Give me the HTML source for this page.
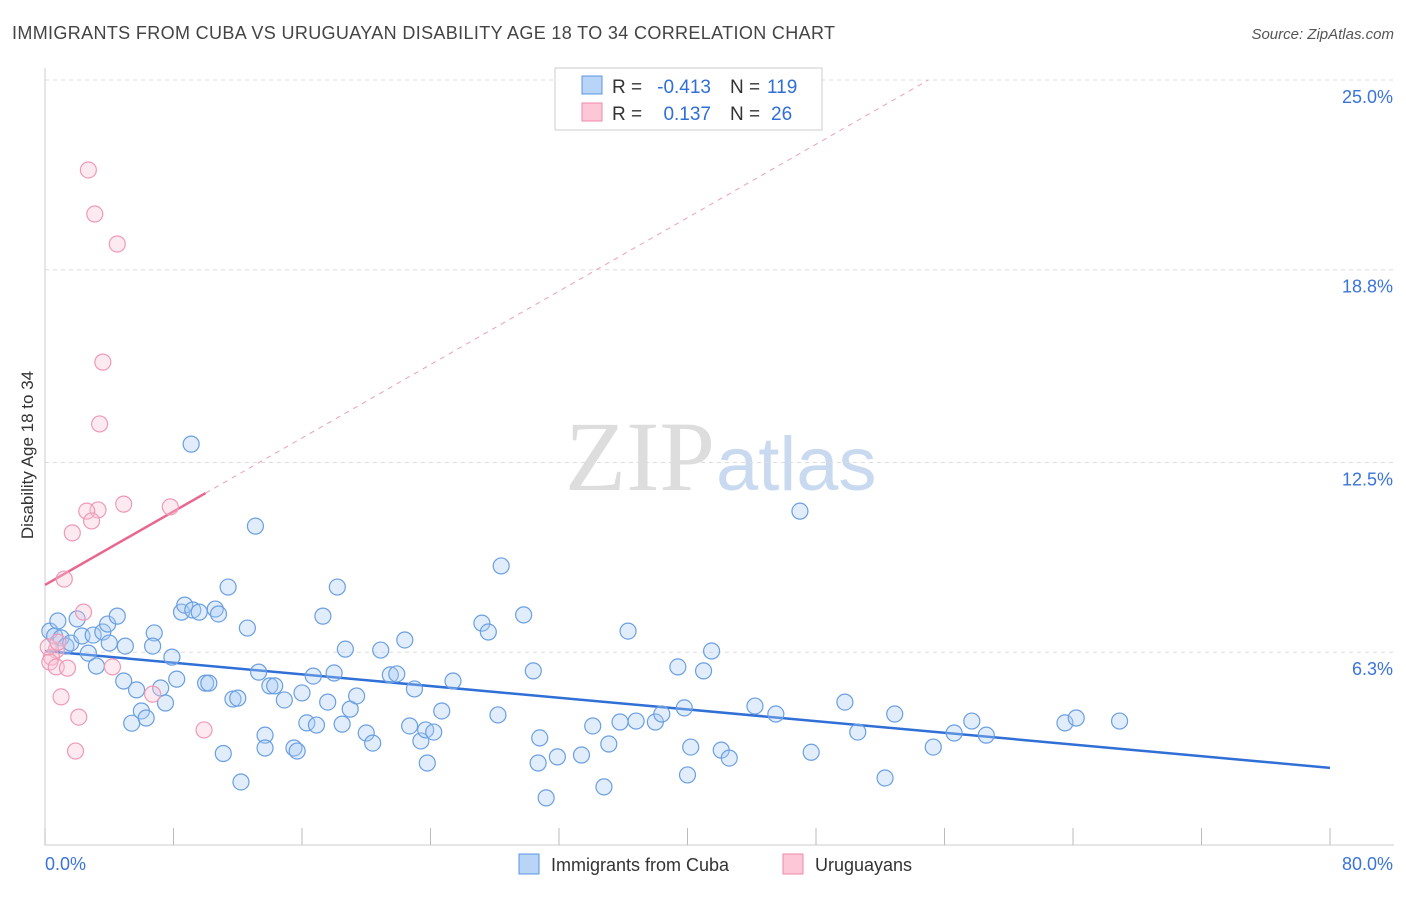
<!DOCTYPE html>
<html><head><meta charset="utf-8"><style>
body{margin:0;background:#fff;font-family:"Liberation Sans",sans-serif;}
</style></head><body>
<svg id="chart" width="1406" height="892" xmlns="http://www.w3.org/2000/svg" font-family="Liberation Sans, sans-serif">
<text x="12" y="39" font-size="18" fill="#444" textLength="823">IMMIGRANTS FROM CUBA VS URUGUAYAN DISABILITY AGE 18 TO 34 CORRELATION CHART</text>
<text x="1394" y="39" font-size="15" fill="#555" font-style="italic" text-anchor="end">Source: ZipAtlas.com</text>
<text x="715" y="490" font-size="100" fill="#ddd" text-anchor="end" font-family="Liberation Serif, serif">ZIP</text>
<text x="716" y="490" font-size="76" fill="#c9daf0">atlas</text>
<g id="grid"></g><g id="axes"></g><g id="trend"></g><g id="pts"></g>
<text transform="translate(33,455) rotate(-90)" font-size="17" fill="#333" text-anchor="middle">Disability Age 18 to 34</text>
<g>
<rect x="555" y="68" width="267" height="62" fill="#fff" stroke="#ccc"/>
<rect x="582" y="76" width="20" height="18" fill="#b8d4f6" stroke="#5b95e0"/>
<rect x="582" y="103" width="20" height="18" fill="#fcc8d7" stroke="#ee88a8"/>
<text x="612" y="93" font-size="19" fill="#333">R =</text>
<text x="711" y="93" font-size="19" fill="#2f6fd6" text-anchor="end">-0.413</text>
<text x="730" y="93" font-size="19" fill="#333">N =</text>
<text x="767" y="93" font-size="19" fill="#2f6fd6">119</text>
<text x="612" y="120" font-size="19" fill="#333">R =</text>
<text x="711" y="120" font-size="19" fill="#2f6fd6" text-anchor="end">0.137</text>
<text x="730" y="120" font-size="19" fill="#333">N =</text>
<text x="771" y="120" font-size="19" fill="#2f6fd6">26</text>
</g>
<g>
<rect x="519" y="854" width="20" height="20" fill="#b8d4f6" stroke="#5b95e0"/>
<text x="551" y="871" font-size="18" fill="#333">Immigrants from Cuba</text>
<rect x="783" y="854" width="20" height="20" fill="#fcc8d7" stroke="#ee88a8"/>
<text x="815" y="871" font-size="18" fill="#333">Uruguayans</text>
</g>
</svg>
<script>
const blueX=[0.3,0.6,0.8,1.0,1.3,1.6,2.0,2.3,2.7,3.0,3.2,3.6,3.9,4.0,4.5,4.9,5.0,5.4,5.7,6.0,6.3,6.8,6.7,7.2,7.5,7.9,8.2,8.5,8.7,9.1,9.2,9.6,10.0,10.2,10.6,10.8,11.1,11.4,11.7,12.0,12.2,12.6,13.1,13.3,13.7,13.7,14.0,14.3,14.9,15.5,15.7,16.0,16.3,16.7,16.9,17.3,17.6,18.0,18.2,18.5,18.7,19.0,19.4,20.0,20.4,20.9,21.5,21.9,22.4,22.7,23.0,23.4,23.7,23.8,24.2,24.7,25.4,27.2,27.6,28.2,28.4,29.8,30.4,30.8,30.7,31.2,31.9,33.4,34.1,34.8,35.1,35.8,36.3,36.8,38.0,38.4,39.4,39.8,40.0,41.0,40.2,41.5,42.1,42.6,44.2,45.5,47.0,47.7,49.8,50.6,52.3,52.9,55.3,56.6,57.7,58.6,63.5,64.2,66.9];
const blueY=[6.99,6.83,7.32,6.77,6.50,6.60,7.39,6.83,6.27,6.86,5.85,6.96,7.22,6.60,7.48,5.36,6.50,3.98,5.07,4.38,4.15,6.93,6.50,5.13,4.64,6.14,5.42,7.61,7.84,13.10,7.68,7.61,5.29,5.29,7.71,7.55,2.99,8.43,4.77,4.80,2.06,7.09,10.42,5.65,3.59,3.17,5.20,5.20,4.74,3.17,3.07,4.97,3.99,5.52,3.92,7.48,4.67,5.62,8.43,3.95,6.40,4.44,4.87,3.66,3.33,6.37,5.56,5.59,6.70,3.89,5.10,3.40,3.76,2.68,3.69,4.38,5.36,7.25,6.96,4.25,9.12,7.52,5.69,3.50,2.68,1.54,2.88,2.94,3.89,1.90,3.30,4.02,6.99,4.05,4.02,4.28,5.82,4.48,2.29,5.69,3.20,6.34,3.10,2.84,4.54,4.28,10.91,3.03,4.67,3.69,2.19,4.28,3.20,3.66,4.05,3.59,3.99,4.15,4.05,5.03];
const pinkX=[2.7,3.1,4.5,3.6,3.4,4.9,3.3,2.6,2.9,1.7,7.8,1.2,2.4,0.7,0.4,0.3,0.7,1.4,4.2,6.7,1.0,2.1,9.9,1.9,0.2,0.8];
const pinkY=[22.06,20.62,19.64,15.78,13.76,11.14,10.95,10.91,10.59,10.20,11.05,8.69,7.61,6.37,6.14,5.98,5.82,5.78,5.82,4.93,4.84,4.18,3.76,3.07,6.47,6.63];
const yTicks=[25.0,18.8,12.5,6.3];
const blueTrend=[6.34,2.52];
const pinkTrend=[8.50,0.30];
const X=v=>45+v/80*1285, Y=v=>845-v*30.6;
const NS="http://www.w3.org/2000/svg";
function mk(p,t,a){const e=document.createElementNS(NS,t);for(const k in a)e.setAttribute(k,a[k]);document.getElementById(p).appendChild(e);return e;}
yTicks.forEach(t=>{
 const l=mk('grid','line',{x1:45,x2:1394,y1:Y(t),y2:Y(t),stroke:'#ddd','stroke-dasharray':'4,4'});
 
 
 const tx=mk('grid','text',{x:1393,y:Y(t)+23,'font-size':18,fill:'#3a74d8','text-anchor':'end'});tx.textContent=t.toFixed(1)+'%';
 
 
});
let ax=mk('axes','line',{x1:45,x2:45,y1:68,y2:845,stroke:'#ccc'});


ax=mk('axes','line',{x1:45,x2:1394,y1:845,y2:845,stroke:'#ccc'});


for(let i=0;i<=10;i++){const t=mk('axes','line',{x1:X(i*8),x2:X(i*8),y1:828,y2:845,stroke:'#bbb'});
 
 }
let xl=mk('axes','text',{x:45,y:870,'font-size':18,fill:'#3a74d8'});xl.textContent='0.0%';


xl=mk('axes','text',{x:1393,y:870,'font-size':18,fill:'#3a74d8','text-anchor':'end'});xl.textContent='80.0%';


blueX.forEach((x,i)=>{const c=mk('pts','circle',{cx:X(x),cy:Y(blueY[i]),r:8,fill:'rgba(170,202,244,0.35)',stroke:'#6a9fe2','stroke-width':1.2});
 
 });
pinkX.forEach((x,i)=>{const c=mk('pts','circle',{cx:X(x),cy:Y(pinkY[i]),r:8,fill:'rgba(250,195,213,0.35)',stroke:'#ef9ab5','stroke-width':1.2});
 
 });
let tl=mk('trend','line',{x1:X(0),y1:Y(blueTrend[0]),x2:X(80),y2:Y(blueTrend[1]),stroke:'#2f6fd6','stroke-width':2.5});


const pe=10, pd=(25-pinkTrend[0])/pinkTrend[1];
tl=mk('trend','line',{x1:X(0),y1:Y(pinkTrend[0]),x2:X(pe),y2:Y(pinkTrend[0]+pinkTrend[1]*pe),stroke:'#e8678f','stroke-width':2.5});


tl=mk('trend','line',{x1:X(pe),y1:Y(pinkTrend[0]+pinkTrend[1]*pe),x2:X(pd),y2:Y(25),stroke:'#eaa0b8','stroke-width':1,'stroke-dasharray':'5,5'});


</script>
</body></html>
